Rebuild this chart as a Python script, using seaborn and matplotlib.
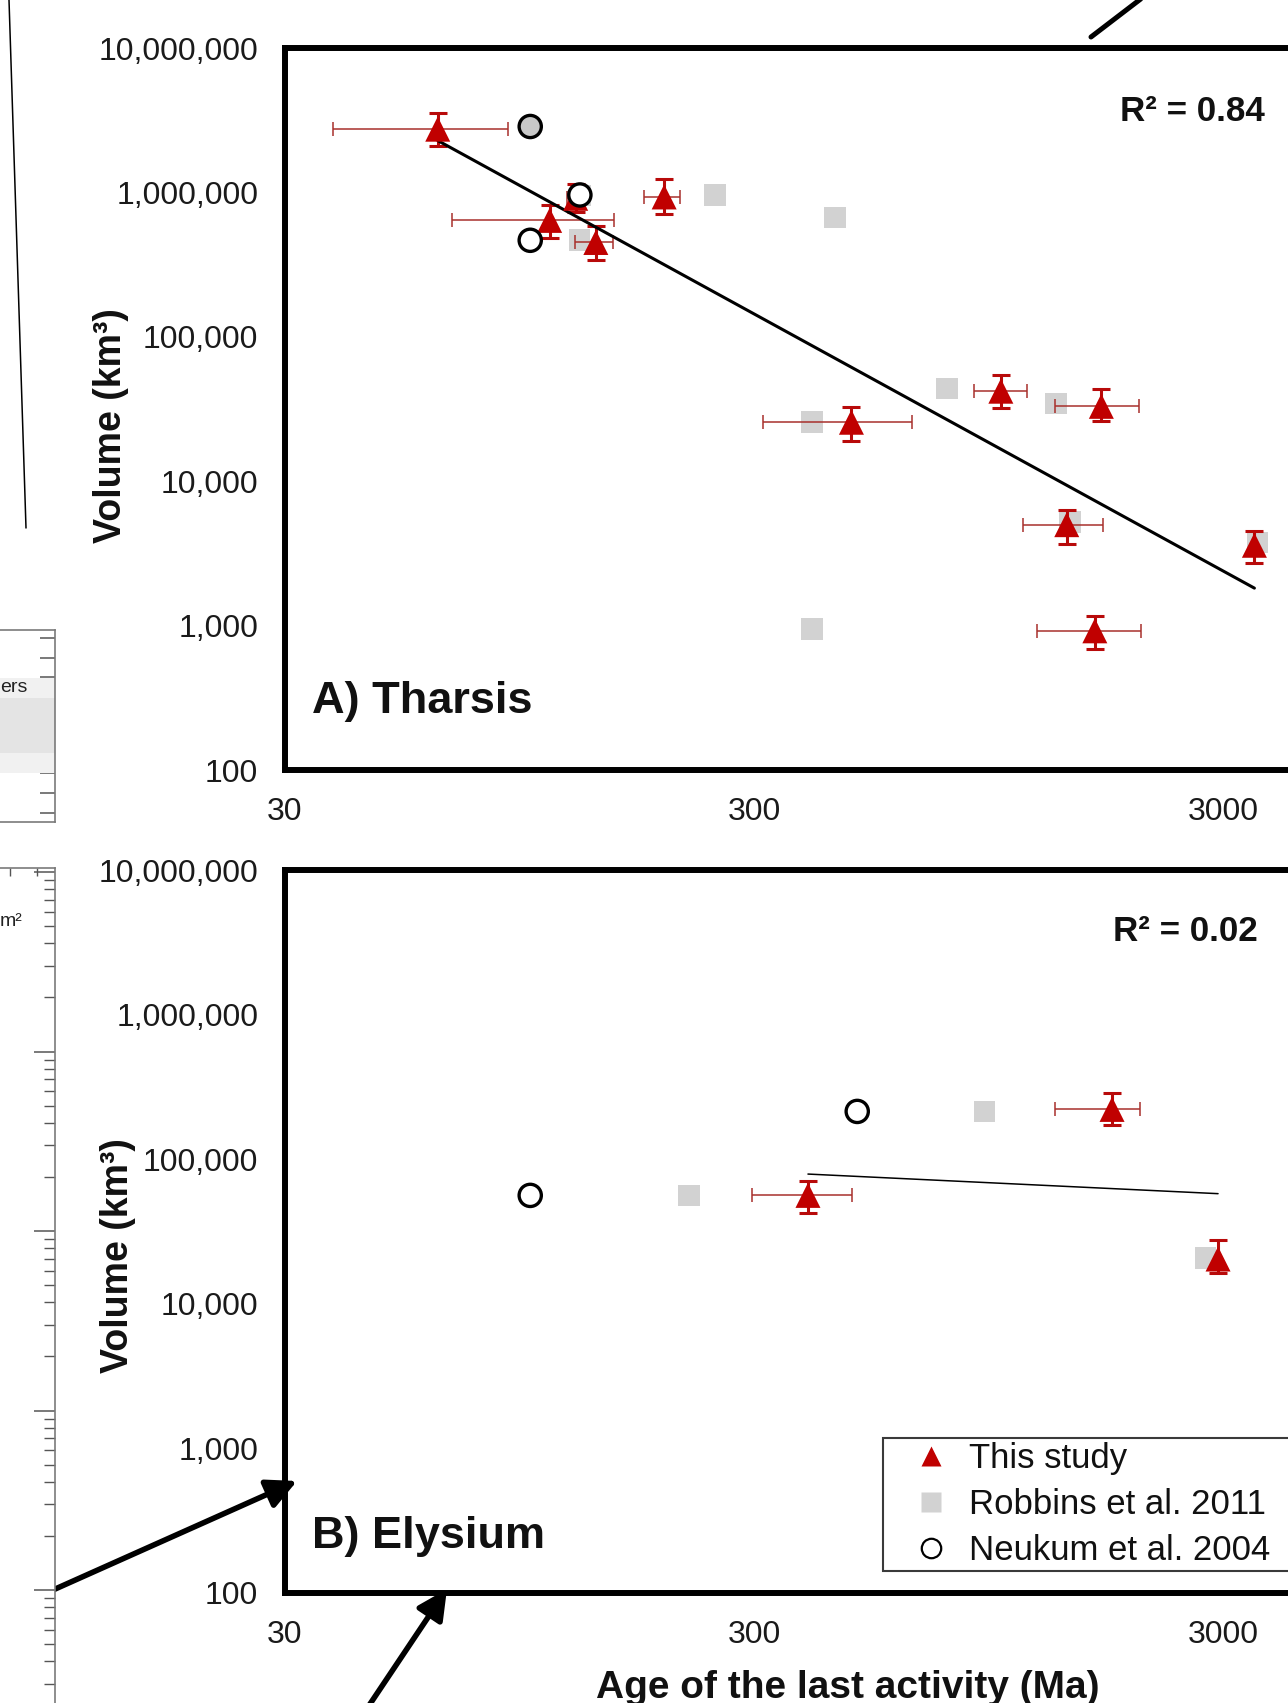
import numpy as np
import pandas as pd
import matplotlib
matplotlib.use("Agg")
import matplotlib.pyplot as plt
import seaborn as sns
from matplotlib.lines import Line2D
from matplotlib.ticker import FixedLocator, FixedFormatter, NullLocator, LogLocator, NullFormatter

nan = np.nan

# ---------------- data ----------------
x_ticks = [30, 300, 3000]
x_tick_labels = ["30", "300", "3000"]
y_ticks = [100, 1e3, 1e4, 1e5, 1e6, 1e7]
y_tick_labels = ["100", "1,000", "10,000", "100,000", "1,000,000", "10,000,000"]

# A) Tharsis - This study
th_study_age = [63.5, 110, 125, 138, 193, 484, 1008, 1651, 1393, 1599, 3500]
th_study_vol = [2.74e6, 6.4e5, 9.1e5, 4.5e5, 9.3e5, 2.56e4, 4.2e4, 3.3e4, 5.0e3, 920, 3.6e3]
th_study_age_lo = [37.9, 68.2, 119.6, 124.6, 175, 313, 883, 1312, 1124, 1204, nan]
th_study_age_hi = [89.8, 151, 131, 150, 209, 652, 1148, 1986, 1661, 2002, nan]
th_study_vol_lo = [2.09e6, 4.82e5, 7.3e5, 3.41e5, 7.05e5, 1.91e4, 3.2e4, 2.6e4, 3.7e3, 686, 2.71e3]
th_study_vol_hi = [3.55e6, 8.17e5, 1.14e6, 5.88e5, 1.23e6, 3.26e4, 5.47e4, 4.37e4, 6.3e3, 1160, 4.55e3]
# A) Tharsis - Robbins et al. 2011
th_robbins_age = [128, 127.5, 248, 447, 399, 774, 1323, 1416, 399, 3550]
th_robbins_vol = [9.5e5, 4.7e5, 9.6e5, 6.7e5, 2.56e4, 4.37e4, 3.46e4, 5.2e3, 944, 3.76e3]
# A) Tharsis - Neukum et al. 2004
th_neukum_age = [100, 127.6, 100]
th_neukum_vol = [2.86e6, 9.6e5, 4.66e5]
th_neukum_fill = ["grey", "open", "open"]
# power-law trend: log10(V) = intercept + slope*log10(age)
th_trend_slope = -1.78
th_trend_intercept = 9.568
th_r2 = "R² = 0.84"

# B) Elysium - This study
el_study_age = [391, 1740, 2928]
el_study_vol = [5.62e4, 2.21e5, 2.04e4]
el_study_age_lo = [297, 1312, nan]
el_study_age_hi = [486, 2000, nan]
el_study_vol_lo = [4.23e4, 1.73e5, 1.63e4]
el_study_vol_hi = [7.1e4, 2.87e5, 2.77e4]
# B) Elysium - Robbins et al. 2011
el_robbins_age = [218, 930, 2755]
el_robbins_vol = [5.62e4, 2.14e5, 2.08e4]
# B) Elysium - Neukum et al. 2004
el_neukum_age = [100, 498]
el_neukum_vol = [5.62e4, 2.14e5]
el_neukum_fill = ["open", "open"]
el_trend_slope = -0.155
el_trend_intercept = 5.299
el_r2 = "R² = 0.02"

legend_labels = ["This study", "Robbins et al. 2011", "Neukum et al. 2004"]

# ---------------- style ----------------
RED = "#C00000"
ERR_X = "#A8302C"
ERR_Y = "#B80A0A"
GREY_SQ = "#D2D2D2"
GREY_CIRC = "#C8C8C8"

sns.set_theme(style="white")
plt.rcParams["font.family"] = ["Liberation Sans", "DejaVu Sans"]

W, H = 1288, 1703
fig = plt.figure(figsize=(W / 100, H / 100), dpi=100)
fig.patch.set_facecolor("white")


def fx(x):
    return x / W


def fy(y):
    return 1 - y / H


AX_LEFT = 285
AX_W = 3 * 469  # three decades


def make_axes(top, bottom):
    ax = fig.add_axes([fx(AX_LEFT), fy(bottom), AX_W / W, (bottom - top) / H])
    ax.set_facecolor("white")
    ax.set_xscale("log")
    ax.set_yscale("log")
    ax.set_xlim(30, 30000)
    ax.set_ylim(100, 1e7)
    ax.xaxis.set_major_locator(FixedLocator(x_ticks))
    ax.xaxis.set_major_formatter(FixedFormatter(x_tick_labels))
    ax.yaxis.set_major_locator(FixedLocator(y_ticks))
    ax.yaxis.set_major_formatter(FixedFormatter(y_tick_labels))
    ax.xaxis.set_minor_locator(NullLocator())
    ax.yaxis.set_minor_locator(NullLocator())
    for s in ["left", "top", "bottom"]:
        ax.spines[s].set_linewidth(4.3)
        ax.spines[s].set_color("black")
    ax.spines["right"].set_visible(False)
    ax.tick_params(axis="both", which="major", direction="out", length=7.2,
                   width=1.0, color="black", labelsize=23, labelcolor="#1a1a1a")
    ax.tick_params(axis="x", pad=12)
    ax.tick_params(axis="y", pad=12)
    ax.set_xlabel("")
    ax.set_ylabel("")
    return ax


def draw_panel(ax, s_age, s_vol, a_lo, a_hi, v_lo, v_hi,
               r_age, r_vol, n_age, n_vol, n_fill, slope, intercept, trend_lw):
    s_age = np.array(s_age, float)
    s_vol = np.array(s_vol, float)
    a_lo = np.array(a_lo, float)
    a_hi = np.array(a_hi, float)
    v_lo = np.array(v_lo, float)
    v_hi = np.array(v_hi, float)

    # Robbins squares (bottom)
    sns.scatterplot(x=r_age, y=r_vol, marker="s", s=15.5 ** 2, color=GREY_SQ,
                    edgecolor="none", linewidth=0, ax=ax, zorder=2, legend=False)

    # x error bars
    m = np.isfinite(a_lo)
    if m.any():
        ax.errorbar(s_age[m], s_vol[m], xerr=[s_age[m] - a_lo[m], a_hi[m] - s_age[m]],
                    fmt="none", ecolor=ERR_X, elinewidth=1.1, capsize=5.0, capthick=1.1,
                    zorder=3)
    # y error bars
    ax.errorbar(s_age, s_vol, yerr=[s_vol - v_lo, v_hi - s_vol], fmt="none",
                ecolor=ERR_Y, elinewidth=2.2, capsize=6.6, capthick=2.2, zorder=3)

    # trend line
    tx = np.array([s_age.min(), s_age.max()])
    ty = 10 ** (intercept + slope * np.log10(tx))
    sns.lineplot(x=tx, y=ty, color="black", linewidth=trend_lw, ax=ax, zorder=3.5,
                 legend=False, estimator=None, sort=False)

    # This study triangles
    sns.scatterplot(x=s_age, y=s_vol, marker="^", s=18 ** 2, color=RED,
                    edgecolor="none", linewidth=0, ax=ax, zorder=4, legend=False)

    # Neukum circles (top)
    df_n = pd.DataFrame({"age": n_age, "vol": n_vol, "fill": n_fill})
    sns.scatterplot(data=df_n, x="age", y="vol", hue="fill",
                    palette={"grey": GREY_CIRC, "open": "white"}, marker="o",
                    s=16 ** 2, edgecolor="black", linewidth=2.4, ax=ax, zorder=5,
                    legend=False)
    ax.set_xlabel("")
    ax.set_ylabel("")


# ---------------- panel A ----------------
axA = make_axes(48, 770)
draw_panel(axA, th_study_age, th_study_vol, th_study_age_lo, th_study_age_hi,
           th_study_vol_lo, th_study_vol_hi, th_robbins_age, th_robbins_vol,
           th_neukum_age, th_neukum_vol, th_neukum_fill,
           th_trend_slope, th_trend_intercept, 2.2)

# ---------------- panel B ----------------
axB = make_axes(870, 1593)
draw_panel(axB, el_study_age, el_study_vol, el_study_age_lo, el_study_age_hi,
           el_study_vol_lo, el_study_vol_hi, el_robbins_age, el_robbins_vol,
           el_neukum_age, el_neukum_vol, el_neukum_fill,
           el_trend_slope, el_trend_intercept, 1.1)

# texts
fig.text(fx(1265), fy(111.5), th_r2, ha="right", va="center", fontsize=25.2,
         fontweight="bold", color="#111111")
fig.text(fx(1258), fy(931.5), el_r2, ha="right", va="center", fontsize=25.2,
         fontweight="bold", color="#111111")
fig.text(fx(312), fy(701.5), "A) Tharsis", ha="left", va="center", fontsize=32.5,
         fontweight="bold", color="#111111")
fig.text(fx(312), fy(1536.5), "B) Elysium", ha="left", va="center", fontsize=32.5,
         fontweight="bold", color="#111111")
fig.text(fx(111), fy(426), "Volume (km³)", ha="center", va="center", rotation=90,
         fontsize=27, fontweight="bold", color="#111111")
fig.text(fx(118), fy(1256), "Volume (km³)", ha="center", va="center", rotation=90,
         fontsize=27, fontweight="bold", color="#111111")
fig.text(fx(848), fy(1687.5), "Age of the last activity (Ma)", ha="center", va="center",
         fontsize=28, fontweight="bold", color="#111111")

# legend (box runs past the right edge of the cropped picture)
handles = [
    Line2D([], [], ls="none", marker="^", ms=15, color=RED, mec="none"),
    Line2D([], [], ls="none", marker="s", ms=14, color=GREY_SQ, mec="none"),
    Line2D([], [], ls="none", marker="o", ms=14, mfc="white", mec="black", mew=1.6),
]
leg = axB.legend(handles, legend_labels, loc="upper left",
                 bbox_to_anchor=(fx(883), fy(1438), 480 / W, 0),
                 bbox_transform=fig.transFigure, mode="expand",
                 fontsize=25, frameon=True, fancybox=False, framealpha=1,
                 edgecolor="#3a3a3a", borderpad=0.12, handlelength=2.52,
                 handletextpad=-0.16, labelspacing=0.37, borderaxespad=0)
leg.get_frame().set_linewidth(1.5)
for t in leg.get_texts():
    t.set_color("#111111")
leg.set_zorder(10)

# ---------------- cropped neighbouring fragments ----------------
# thin line at top left
fig.add_artist(Line2D([fx(9), fx(26)], [fy(0), fy(528)], color="black", lw=1.1))
# heavy line at top right
fig.add_artist(Line2D([fx(1091), fx(1142)], [fy(37), fy(-2)], color="black", lw=3.6))

# table-like fragment
axF1 = fig.add_axes([fx(-100), fy(822), 155 / W, (822 - 630) / H])
axF1.set_xlim(0, 1)
axF1.set_ylim(822, 630)
axF1.axhspan(678, 698, color="#F1F1F1", lw=0)
axF1.axhspan(698, 753, color="#E4E4E4", lw=0)
axF1.axhspan(753, 773, color="#F1F1F1", lw=0)
for s in ["right", "top", "bottom"]:
    axF1.spines[s].set_color("#7a7a7a")
    axF1.spines[s].set_linewidth(1.2)
axF1.spines["left"].set_visible(False)
axF1.yaxis.tick_right()
axF1.yaxis.set_major_locator(FixedLocator([638, 658, 677, 698, 726, 753, 773, 793, 813]))
axF1.tick_params(axis="y", direction="in", length=11, width=1.1, color="#555555",
                 labelright=False, labelleft=False)
axF1.set_xticks([])
fig.text(fx(0), fy(687), "ers", ha="left", va="center", fontsize=14, color="#222222")

# log axis fragment
axF2 = fig.add_axes([fx(-100), fy(1800), 155 / W, (1800 - 868) / H])
axF2.set_yscale("log")
axF2.set_ylim(10 ** (-(1800 - 1590) / 179.5), 10 ** (4 + 4 / 179.5))
axF2.set_xlim(0, 1)
for s in ["right", "top"]:
    axF2.spines[s].set_color("#7a7a7a")
    axF2.spines[s].set_linewidth(1.2)
axF2.spines["left"].set_visible(False)
axF2.spines["bottom"].set_visible(False)
axF2.yaxis.tick_right()
axF2.yaxis.set_major_locator(LogLocator(base=10, numticks=20))
axF2.yaxis.set_minor_locator(LogLocator(base=10, subs=np.arange(2, 10), numticks=20))
axF2.yaxis.set_major_formatter(NullFormatter())
axF2.yaxis.set_minor_formatter(NullFormatter())
axF2.tick_params(axis="y", which="major", direction="in", length=15, width=1.1,
                 color="#555555", labelright=False, labelleft=False)
axF2.tick_params(axis="y", which="minor", direction="in", length=8, width=1.0,
                 color="#555555")
axF2.xaxis.tick_top()
axF2.set_xticks([(100 + 10) / 155, (100 + 37) / 155])
axF2.tick_params(axis="x", direction="in", length=6, width=1.0, color="#555555",
                 labeltop=False, labelbottom=False)
fig.text(fx(0), fy(922), "m²", ha="left", va="center", fontsize=14, color="#222222")

# arrows pointing to panel B
axB.annotate("", xy=(297, H - 1481), xycoords="figure pixels",
             xytext=(53, H - 1590), textcoords="figure pixels",
             arrowprops=dict(arrowstyle="-|>", lw=4, color="black", mutation_scale=45,
                             shrinkA=0, shrinkB=0), annotation_clip=False)
axB.annotate("", xy=(447, H - 1589), xycoords="figure pixels",
             xytext=(366, H - 1710), textcoords="figure pixels",
             arrowprops=dict(arrowstyle="-|>", lw=4, color="black", mutation_scale=45,
                             shrinkA=0, shrinkB=0), annotation_clip=False)

fig.savefig("out.png", dpi=100, facecolor="white")
